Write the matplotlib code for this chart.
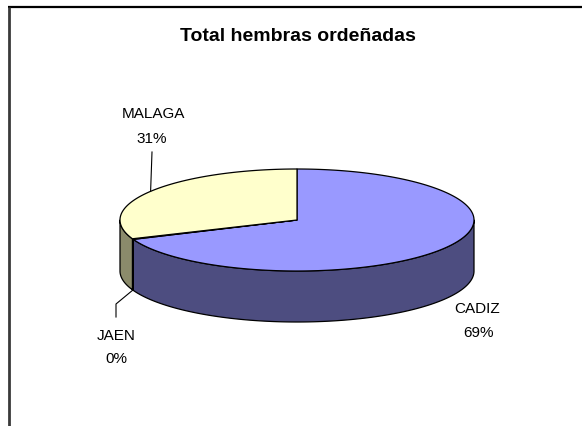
import numpy as np
import matplotlib
matplotlib.use("Agg")
import matplotlib.pyplot as plt
from matplotlib.patches import Polygon

# ---- data ----
categories = ["CADIZ", "JAEN", "MALAGA"]
values = [68.8, 0.2, 31.0]
title = "Total hembras ordeñadas"

top_colors = ["#9999FF", "#993366", "#FFFFCC"]
side_colors = ["#4D4D80", "#4D1A33", "#8B8B6B"]

plt.rcParams['font.family'] = ['Liberation Sans', 'DejaVu Sans']

fig = plt.figure(figsize=(5.82, 4.27), dpi=100)
ax = fig.add_axes([0, 0, 1, 1])
ax.set_xlim(0, 582)
ax.set_ylim(427, 0)
ax.axis('off')

# geometry of the 3-D pie (pixels)
cx, cy, a, b, depth = 297, 221, 177, 51, 51


def pt(t_deg, dz=0.0):
    t = np.radians(t_deg)
    return cx + a * np.cos(t), cy - b * np.sin(t) + dz


def arc(t0, t1, dz=0.0, n=200):
    ts = np.linspace(t0, t1, n)
    return np.array([pt(t, dz) for t in ts])


total = float(sum(values))
fracs = [v / total for v in values]
# Excel: start at 12 o'clock, go clockwise
spans = []
end = 90.0
for f in fracs:
    start = end - 360 * f
    spans.append((start, end))  # math angles, start < end
    end = start
# normalise so that each slice lies in a continuous range
norm = []
for s, e in spans:
    while s < 0:
        s += 360
        e += 360
    norm.append((s, e))

# side walls (front half: 180..360 and 540..720)
for (s, e), col in zip(norm, side_colors):
    for lo, hi in [(180, 360), (540, 720)]:
        s2, e2 = max(s, lo), min(e, hi)
        if e2 > s2:
            topa = arc(s2, e2)
            bota = arc(s2, e2, depth)[::-1]
            poly = np.vstack([topa, bota])
            ax.add_patch(Polygon(poly, closed=True, facecolor=col,
                                 edgecolor='black', linewidth=0.9,
                                 joinstyle='round', zorder=2))

# top faces
for (s, e), col in zip(norm, top_colors):
    pts = np.vstack([[cx, cy], arc(s, e), [cx, cy]])
    ax.add_patch(Polygon(pts, closed=True, facecolor=col,
                         edgecolor='black', linewidth=0.9,
                         joinstyle='round', zorder=3))

# labels
pct = [f"{round(f * 100):.0f}%" for f in fracs]
lab_fs = 11

# CADIZ
ax.text(477, 313, categories[0], ha='center', va='baseline', fontsize=lab_fs)
ax.text(478, 337, pct[0], ha='center', va='baseline', fontsize=lab_fs)

# JAEN with leader line to bottom rim
mid_j = (norm[1][0] + norm[1][1]) / 2
jx, jy = pt(mid_j, depth)
ax.plot([jx, 116, 116], [jy, 305, 318], color='black', lw=0.8, zorder=4)
ax.text(116, 340, categories[1], ha='center', va='baseline', fontsize=lab_fs)
ax.text(116, 363, pct[1], ha='center', va='baseline', fontsize=lab_fs)

# MALAGA with leader line to top rim
mid_m = (norm[2][0] + norm[2][1]) / 2
mx, my = pt(mid_m)
ax.plot([152, mx], [153, my], color='black', lw=0.8, zorder=4)
ax.text(153, 118, categories[2], ha='center', va='baseline', fontsize=lab_fs)
ax.text(152, 143, pct[2], ha='center', va='baseline', fontsize=lab_fs)

# title
ax.text(298, 41, title, ha='center', va='baseline', fontsize=14,
        fontweight='bold')

# chart-area border (top and left visible)
ax.plot([8, 582], [8, 8], color='black', lw=1.6, solid_capstyle='butt')
ax.plot([9, 9], [8, 427], color='#3a3a3a', lw=2.0, solid_capstyle='butt')

fig.savefig("out.png", dpi=100)
